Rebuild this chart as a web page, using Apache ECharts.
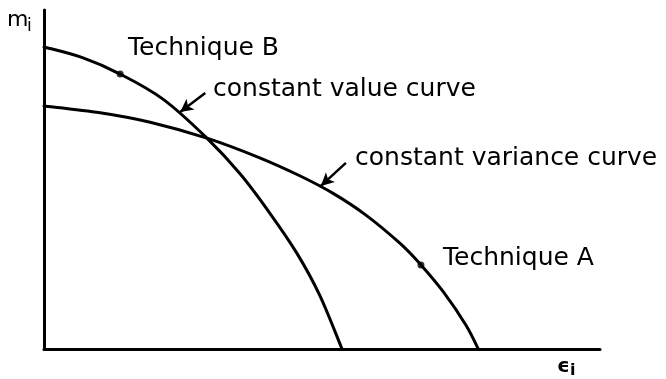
<!DOCTYPE html>
<html>
<head>
<meta charset="utf-8">
<script src="https://cdn.jsdelivr.net/npm/echarts@6/dist/echarts.min.js"></script>
<style>
  html, body { margin: 0; padding: 0; background: #fff; }
  #chart { width: 666px; height: 379px; }
</style>
</head>
<body>
<div id="chart"></div>
<script>
// Constant value curve (technique B) — [ε_i, m_i] in arbitrary units
const constantValueCurve = [
  [0, 89.1], [6.8, 86.0], [13.7, 81.1], [21.4, 73.7], [29.3, 62.2],
  [35.3, 51.6], [40.6, 40.1], [45.5, 28.2], [49.6, 15.8], [53.6, 0]
];
// Constant variance curve (technique A)
const constantVarianceCurve = [
  [0, 71.7], [10.1, 69.7], [19.1, 66.9], [29.3, 62.2], [38.8, 56.4], [46.0, 51.1],
  [52.0, 45.9], [57.9, 39.5], [64.0, 31.2], [67.8, 24.8], [71.8, 16.9], [75.9, 7.0], [78.1, 0]
];
// Operating points of the two techniques
const techniquePoints = [[13.7, 81.1], [67.8, 24.8]];
// Pointer arrows: [tail, tip]
const valueArrow = [[29.0, 75.5], [24.5, 69.9]];
const varianceArrow = [[54.3, 54.9], [49.8, 48.1]];

const family = '"DejaVu Sans", sans-serif';
const black = '#000';

function label(text, x, y, size, weight) {
  return {
    type: 'text', x: x, y: y, silent: true,
    style: {
      text: text, fill: black, fontSize: size, fontFamily: family,
      fontWeight: weight || 'normal', align: 'left', verticalAlign: 'middle'
    }
  };
}

// Smooth curve through the data points (Catmull-Rom converted to cubic Béziers),
// positioned with the cartesian coordinate system of the grid.
function smoothCurveSeries(name, points) {
  return {
    name: name, type: 'custom', data: points, silent: true, clip: false,
    encode: { x: 0, y: 1 },
    renderItem: function (params, api) {
      if (params.dataIndex !== 0) return null;
      const p = points.map(function (d) { return api.coord(d); });
      const n = p.length;
      let d = 'M' + p[0][0] + ' ' + p[0][1];
      for (let i = 0; i < n - 1; i++) {
        const p0 = p[Math.max(i - 1, 0)], p1 = p[i], p2 = p[i + 1], p3 = p[Math.min(i + 2, n - 1)];
        const c1x = p1[0] + (p2[0] - p0[0]) / 6, c1y = p1[1] + (p2[1] - p0[1]) / 6;
        const c2x = p2[0] - (p3[0] - p1[0]) / 6, c2y = p2[1] - (p3[1] - p1[1]) / 6;
        d += ' C' + c1x + ' ' + c1y + ' ' + c2x + ' ' + c2y + ' ' + p2[0] + ' ' + p2[1];
      }
      return {
        type: 'path', shape: { pathData: d },
        style: { fill: null, stroke: black, lineWidth: 3, lineCap: 'round', lineJoin: 'round' }
      };
    }
  };
}

const chart = echarts.init(document.getElementById('chart'), null, { renderer: 'canvas' });
const arrowLine = (pts) => [{ coord: pts[0] }, { coord: pts[1] }];

chart.setOption({
  animation: false,
  backgroundColor: '#fff',
  grid: { left: 44, right: 66, top: 10, bottom: 30 },
  xAxis: {
    type: 'value', min: 0, max: 100,
    axisLine: { show: true, lineStyle: { color: black, width: 3 } },
    axisTick: { show: false }, axisLabel: { show: false }, splitLine: { show: false }
  },
  yAxis: {
    type: 'value', min: 0, max: 100,
    axisLine: { show: true, lineStyle: { color: black, width: 3 } },
    axisTick: { show: false }, axisLabel: { show: false }, splitLine: { show: false }
  },
  series: [
    smoothCurveSeries('constant value curve', constantValueCurve),
    smoothCurveSeries('constant variance curve', constantVarianceCurve),
    {
      name: 'techniques', type: 'scatter', data: techniquePoints,
      symbol: 'circle', symbolSize: 7, itemStyle: { color: black }, silent: true,
      markLine: {
        silent: true, symbol: ['none', 'arrow'], symbolSize: [10, 13],
        lineStyle: { color: black, width: 2.5, type: 'solid' },
        label: { show: false },
        data: [arrowLine(valueArrow), arrowLine(varianceArrow)]
      }
    }
  ],
  graphic: [
    label('m', 7, 20, 22),
    label('i', 27, 27, 17),
    label('Technique B', 128, 48, 25),
    label('constant value curve', 213, 89, 25),
    label('constant variance curve', 355, 158, 25),
    label('Technique A', 443, 258, 25),
    label('ϵ', 557, 367, 20, 'bold'),
    label('i', 570, 371, 16, 'bold')
  ]
});
</script>
</body>
</html>
